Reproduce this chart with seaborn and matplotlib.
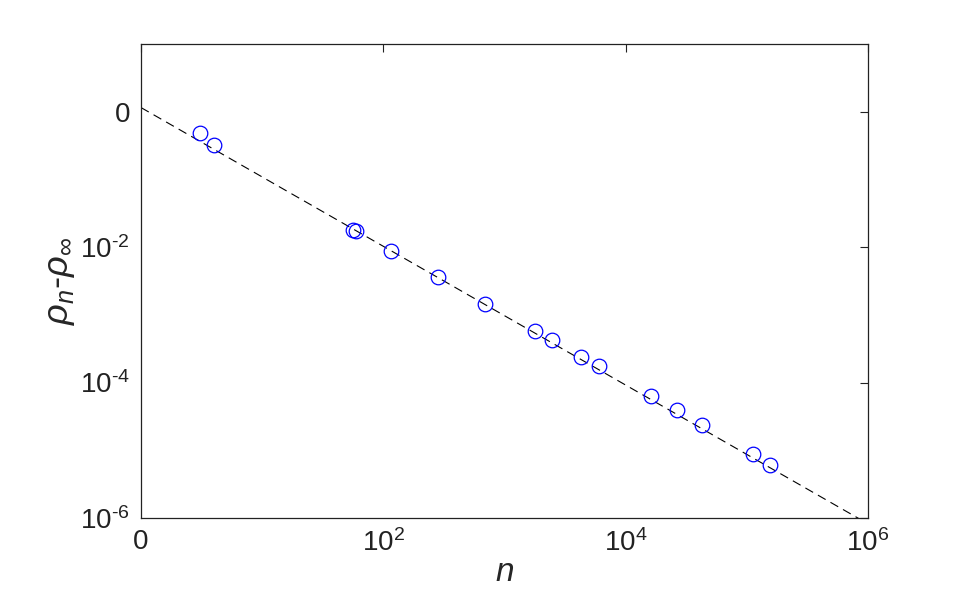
import numpy as np
import pandas as pd
import matplotlib
matplotlib.use("Agg")
import matplotlib.pyplot as plt
import seaborn as sns

# values (log-log)
n_values = [3.05, 4.0, 56.5, 59.4, 116, 285, 694, 1782, 2476, 4296, 6040,
            16200, 26600, 42700, 112700, 154900]
rho_diff = [0.485, 0.323, 0.01803, 0.01702, 0.00883, 0.00357, 0.001462,
            5.71e-4, 4.21e-4, 2.42e-4, 1.74e-4, 6.28e-5, 3.87e-5, 2.35e-5,
            8.77e-6, 6.04e-6]

# dashed power-law fit, end points
fit_n = [1.0, 1.0e6]
fit_rho = [1.15, 8.2e-7]

xtick_values = [1, 1e2, 1e4, 1e6]
xtick_labels = ["0", r"$10^{2}$", r"$10^{4}$", r"$10^{6}$"]
ytick_values = [1e-6, 1e-4, 1e-2, 1]
ytick_labels = [r"$10^{\text{-}6}$", r"$10^{\text{-}4}$", r"$10^{\text{-}2}$", "0"]

sns.set_style("white")
plt.rcParams["font.family"] = ["Liberation Sans", "DejaVu Sans"]
plt.rcParams["mathtext.fontset"] = "custom"
plt.rcParams["mathtext.rm"] = "Liberation Sans"
plt.rcParams["mathtext.it"] = "Liberation Sans:italic"

points = pd.DataFrame({"n": n_values, "rho": rho_diff})
fit = pd.DataFrame({"n": fit_n, "rho": fit_rho})

fig = plt.figure(figsize=(9.6, 6.04), dpi=100)
ax = fig.add_axes([0.1469, 0.1424, 0.7573, 0.7848])

sns.lineplot(data=fit, x="n", y="rho", ax=ax, color="black", linewidth=0.8,
             dashes=False, linestyle=(0, (8, 5)))
sns.lineplot(data=points, x="n", y="rho", ax=ax, linestyle="none", marker="o",
             markersize=10.5, markerfacecolor="none", markeredgecolor="blue",
             markeredgewidth=0.9, sort=False)

ax.set_xscale("log")
ax.set_yscale("log")
ax.set_xlim(1, 1e6)
ax.set_ylim(1e-6, 1e1)
ax.set_xticks(xtick_values, xtick_labels)
ax.set_yticks(ytick_values, ytick_labels)
ax.minorticks_off()

ax.tick_params(direction="in", length=6, width=0.8, top=True, right=True,
               labelsize=20, colors="#222222", pad=8)
for s in ax.spines.values():
    s.set_visible(True)
    s.set_color("#222222")
    s.set_linewidth(0.9)

ax.set_xlabel(r"$n$", fontsize=24, labelpad=0)
ax.set_ylabel(r"$\rho_n$-$\rho_\infty$", fontsize=26, labelpad=2)

fig.savefig("out.png", dpi=100)
